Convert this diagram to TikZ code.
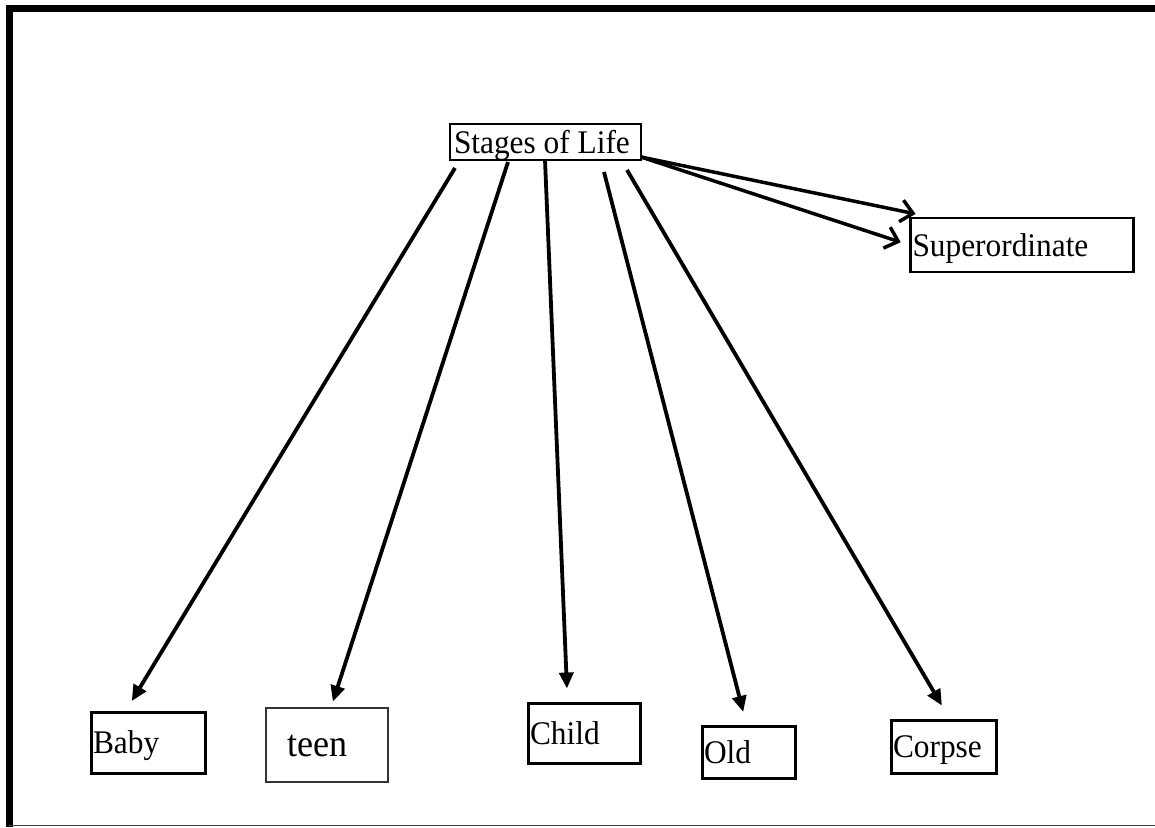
\documentclass[tikz,border=0pt]{standalone}
\usepackage{fontspec}
\setmainfont{Liberation Serif}[FakeStretch=0.95]
\usetikzlibrary{arrows.meta}

\begin{document}
\begin{tikzpicture}[x=1pt,y=-1pt,
		box/.style={draw, line width=2.5pt, inner ysep=0pt, inner xsep=2pt,
			text height=22pt, text depth=0pt, align=flush left,
			font=\fontsize{33}{36}\selectfont},
		link/.style={line width=3.8pt, -{Triangle[length=16pt,width=14pt]}},
		uplink/.style={line width=3.5pt, -{Straight Barb[length=12pt,width=22pt]}}]
		\useasboundingbox (0,0) rectangle (1155,827);
		% frame
		\draw [line width=7pt] (9,827) -- (9,8.5) -- (1155,8.5);
		\draw [line width=1.5pt, black!75] (9,825.5) -- (1155,825.5);
		% nodes
		\node [box, line width=2pt, inner xsep=4pt, minimum width=191pt, minimum height=36pt, text width=183pt] (life) at (545.5,142) {Stages of Life};
		\node [box, minimum width=223pt, minimum height=54pt, text width=219pt] (sup) at (1022,245) {Superordinate};
		\node [box, line width=3pt, minimum width=114pt, minimum height=61pt, text width=110pt] (baby) at (148,742.5) {Baby};
		\node [box, line width=1.3pt, draw=black!80, inner xsep=21pt, minimum width=122pt, minimum height=74pt, text width=80pt, font=\fontsize{38}{40}\selectfont] (teen) at (327,745) {teen};
		\node [box, line width=3pt, minimum width=112pt, minimum height=60pt, text width=108pt] (child) at (584,733) {Child};
		\node [box, line width=3pt, minimum width=93pt, minimum height=52pt, text width=89pt] (old) at (748.5,752) {Old};
		\node [box, line width=3pt, minimum width=105pt, minimum height=53pt, text width=101pt] (corpse) at (943.5,746.5) {Corpse};
		% start points under the title
		\coordinate (a1) at (455,168);
		\coordinate (a2) at (508,162);
		\coordinate (a3) at (545,160);
		\coordinate (a4) at (604,172);
		\coordinate (a5) at (627,170);
		\coordinate (b0) at (641,157);
		% arrows
		\draw [link, shorten >=11pt] (a1) -- ([xshift=-22pt]baby.north);
		\draw [link, shorten >=6pt] (a2) -- ([xshift=4pt]teen.north);
		\draw [link, shorten >=13pt] (a3) -- ([xshift=-16.5pt]child.north);
		\draw [link, shorten >=13pt] (a4) -- ([xshift=-2pt]old.north);
		\draw [link, shorten >=15pt] (a5) -- ([xshift=6pt]corpse.north);
		\draw [uplink, shorten >=14pt] (b0) -- ([xshift=20pt]sup.north west);
		\draw [uplink, shorten >=9pt] (b0) -- (sup.west);
	\end{tikzpicture}
\end{document}
